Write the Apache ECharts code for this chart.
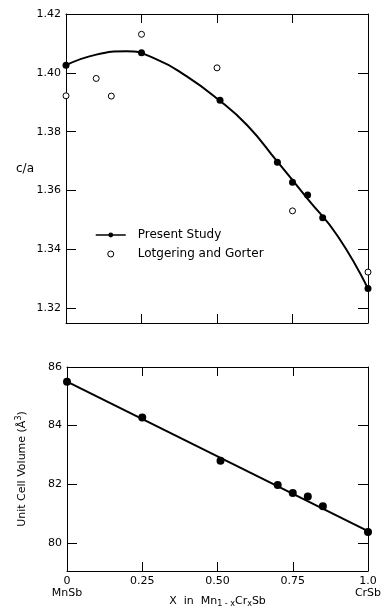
<!DOCTYPE html>
<html>
<head>
<meta charset="utf-8">
<script src="https://cdn.jsdelivr.net/npm/echarts@6/dist/echarts.min.js"></script>
<style>
  html, body { margin: 0; padding: 0; background: #fff; }
  #chart { width: 385px; height: 608px; }
</style>
</head>
<body>
<div id="chart"></div>
<script>
// x = Cr fraction in Mn(1-x)Cr(x)Sb
var xPresent = [0, 0.25, 0.51, 0.70, 0.75, 0.80, 0.85, 1.0];
// c/a, present study (filled dots)
var caPresent = [1.4026, 1.4068, 1.3907, 1.3696, 1.3628, 1.3585, 1.3508, 1.3267];
// c/a, Lotgering and Gorter (open circles)
var xLotgering = [0, 0.10, 0.15, 0.25, 0.50, 0.75, 1.0];
var caLotgering = [1.3922, 1.3981, 1.3921, 1.4131, 1.4017, 1.3531, 1.3323];
var xFit = [0, 0.1, 0.2, 0.3, 0.4, 0.5, 0.6, 0.7, 0.8, 0.9, 1.0];
var caFit = [1.4026, 1.4062, 1.4073, 1.4046, 1.3988, 1.3913, 1.3822, 1.3698, 1.3572, 1.3445, 1.3267];
// unit cell volume (A^3)
var volPresent = [85.50, 84.28, 82.80, 81.97, 81.70, 81.58, 81.25, 80.37];
var xVolFit = [0, 1.0];
var volFit = [85.50, 80.40];

// tick labels
var caTicks = [1.32, 1.34, 1.36, 1.38, 1.40, 1.42];
var volTicks = [80, 82, 84, 86];
var xTickLabels = ['0', '0.25', '0.50', '0.75', '1.0'];
var xEndNames = ['MnSb', '', '', '', 'CrSb'];

function pairs(xs, ys) {
  var out = [];
  for (var i = 0; i < xs.length; i++) {
    out.push([xs[i], ys[i]]);
  }
  return out;
}

var INK = '#000';
var FONT = 'DejaVu Sans';

// common axis pieces
function xAxisDef(grid, pos) {
  return {
    type: 'value', gridIndex: grid, position: pos,
    min: 0, max: 1, interval: 0.25,
    axisLine: { show: true, onZero: false, lineStyle: { color: INK, width: 1 } },
    axisTick: { show: true, inside: true, length: 9, lineStyle: { color: INK } },
    splitLine: { show: false },
    axisLabel: { show: false }
  };
}
function yAxisDef(grid, pos, min, max, ticks, showLabel, fmt) {
  return {
    type: 'value', gridIndex: grid, position: pos,
    min: min, max: max,
    axisLine: { show: true, onZero: false, lineStyle: { color: INK, width: 1 } },
    axisTick: { show: true, inside: true, length: 10, customValues: ticks, lineStyle: { color: INK } },
    splitLine: { show: false },
    axisLabel: {
      show: showLabel, customValues: ticks, margin: 5,
      color: INK, fontFamily: FONT, fontSize: 11,
      formatter: fmt
    }
  };
}

var bottomX = xAxisDef(1, 'bottom');
bottomX.axisLabel = {
  show: true, margin: 4, color: INK, fontFamily: FONT, fontSize: 11,
  lineHeight: 12,
  formatter: function (v) {
    var i = Math.round(v / 0.25);
    var s = xTickLabels[i];
    if (xEndNames[i]) {
      s += '\n' + xEndNames[i];
    }
    return s;
  }
};
bottomX.name = 'X  in  Mn{sub|1 - x}Cr{sub|x}Sb';
bottomX.nameLocation = 'middle';
bottomX.nameGap = 23;
bottomX.nameMoveOverlap = false;
bottomX.nameTextStyle = {
  color: INK, fontFamily: FONT, fontSize: 11,
  rich: { sub: { fontSize: 8, verticalAlign: 'bottom', padding: [6, 0, 0, 0], fontFamily: FONT, color: INK } }
};

var leftTop = yAxisDef(0, 'left', 1.315, 1.42, caTicks, true, function (v) { return v.toFixed(2); });
leftTop.name = 'c/a';
leftTop.nameLocation = 'middle';
leftTop.nameRotate = 0;
leftTop.nameGap = 32;
leftTop.nameMoveOverlap = false;
leftTop.nameTextStyle = { color: INK, fontFamily: FONT, fontSize: 12, padding: [0, 0, 16, 0] };

var leftBottom = yAxisDef(1, 'left', 79.04, 86, volTicks, true, function (v) { return String(v); });
leftBottom.name = 'Unit Cell Volume (Å{sup|3})';
leftBottom.nameLocation = 'middle';
leftBottom.nameGap = 38;
leftBottom.nameMoveOverlap = false;
leftBottom.nameTextStyle = {
  color: INK, fontFamily: FONT, fontSize: 11,
  rich: { sup: { fontSize: 8, verticalAlign: 'top', padding: [0, 0, 6, 0], fontFamily: FONT, color: INK } }
};

var option = {
  backgroundColor: '#fff',
  animation: false,
  grid: [
    { left: 66, right: 17, top: 14, bottom: 285, outerBoundsMode: 'none' },
    { left: 67, right: 17, top: 367, bottom: 37, outerBoundsMode: 'none' }
  ],
  legend: {
    data: [
      { name: 'Present Study', lineStyle: { width: 1.5, color: INK } },
      { name: 'Lotgering and Gorter', itemStyle: { borderWidth: 1 } }
    ],
    orient: 'vertical',
    left: 95, top: 229, padding: 0,
    itemWidth: 30, itemHeight: 6, itemGap: 7,
    textStyle: { color: INK, fontFamily: FONT, fontSize: 12, padding: [0, 0, 0, 7] }
  },
  xAxis: [
    xAxisDef(0, 'bottom'),
    xAxisDef(0, 'top'),
    bottomX,
    xAxisDef(1, 'top')
  ],
  yAxis: [
    leftTop,
    yAxisDef(0, 'right', 1.315, 1.42, caTicks, false),
    leftBottom,
    yAxisDef(1, 'right', 79.04, 86, volTicks, false)
  ],
  series: [
    {
      name: 'fit', type: 'line', xAxisIndex: 0, yAxisIndex: 0,
      data: pairs(xFit, caFit), smooth: 0.5, showSymbol: false, clip: false,
      lineStyle: { color: INK, width: 2 }, z: 2, silent: true
    },
    {
      name: 'Present Study', type: 'line', xAxisIndex: 0, yAxisIndex: 0,
      data: pairs(xPresent, caPresent), symbol: 'circle', symbolSize: 7, clip: false,
      lineStyle: { width: 0 }, itemStyle: { color: INK, opacity: 1 }, z: 3
    },
    {
      name: 'Lotgering and Gorter', type: 'scatter', xAxisIndex: 0, yAxisIndex: 0,
      data: pairs(xLotgering, caLotgering), symbol: 'circle', symbolSize: 6, clip: false,
      itemStyle: { color: '#fff', borderColor: INK, borderWidth: 1, opacity: 1 }, z: 3
    },
    {
      name: 'volfit', type: 'line', xAxisIndex: 2, yAxisIndex: 2,
      data: pairs(xVolFit, volFit), showSymbol: false, clip: false,
      lineStyle: { color: INK, width: 2 }, z: 2, silent: true
    },
    {
      name: 'volume', type: 'scatter', xAxisIndex: 2, yAxisIndex: 2,
      data: pairs(xPresent, volPresent), symbol: 'circle', symbolSize: 8, clip: false,
      itemStyle: { color: INK, opacity: 1 }, z: 3
    }
  ]
};

var chart = echarts.init(document.getElementById('chart'));
chart.setOption(option);
</script>
</body>
</html>
